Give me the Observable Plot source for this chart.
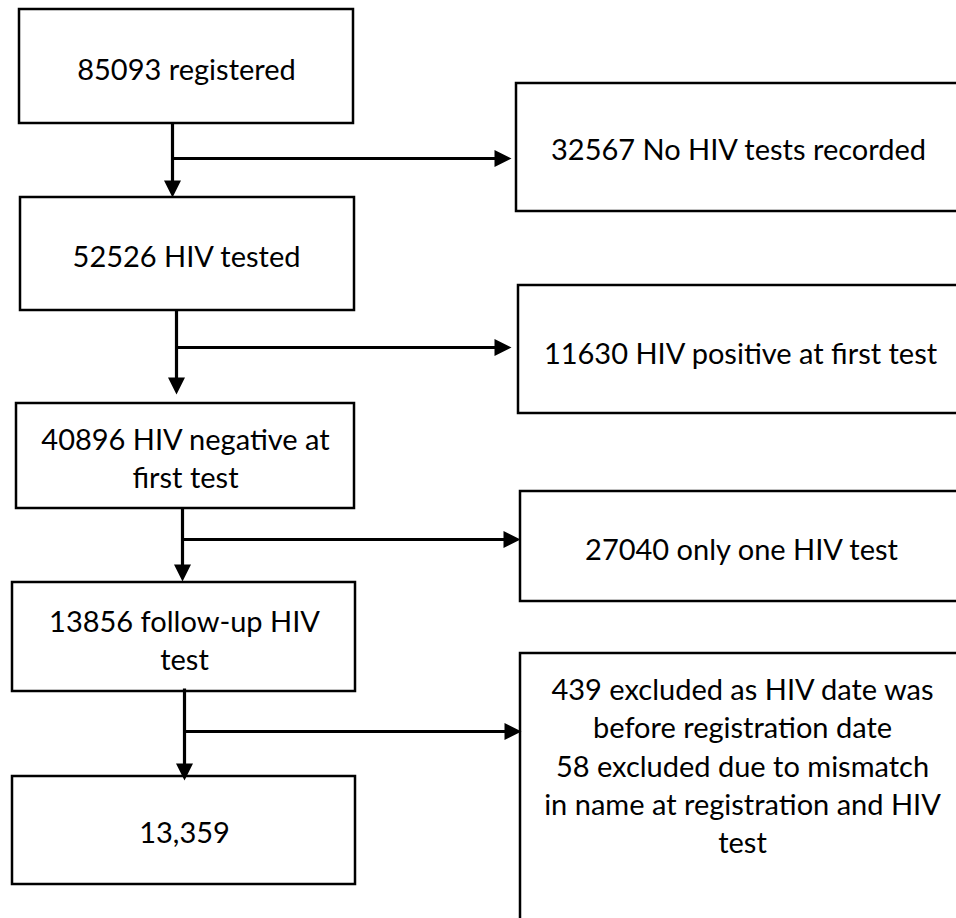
<!DOCTYPE html>
<html>
<head>
<meta charset="utf-8">
<script src="https://cdn.jsdelivr.net/npm/d3@7"></script>
<script src="https://cdn.jsdelivr.net/npm/@observablehq/plot@0.6"></script>
<style>
  html, body { margin: 0; padding: 0; background: #fff; }
  #chart { width: 956px; height: 918px; overflow: hidden; }
</style>
</head>
<body>
<div id="chart"></div>
<script>
// ---- Content (flow counts / labels) ----
const mainLabels = [
  "85093 registered",
  "52526 HIV tested",
  "40896 HIV negative at\nfirst test",
  "13856 follow-up HIV\ntest",
  "13,359"
];
const sideLabels = [
  "32567 No HIV tests recorded",
  "11630 HIV positive at first test",
  "27040 only one HIV test",
  "439 excluded as HIV date was\nbefore registration date\n58 excluded due to mismatch\nin name at registration and HIV\ntest"
];

// ---- Layout (pixel coordinates in the 956 x 918 canvas) ----
const mainX1 = [19, 20, 16, 12, 12];
const mainX2 = [353, 354, 354, 355, 355];
const mainY1 = [9, 197, 403, 582, 776];
const mainY2 = [123, 310, 508, 691, 884];
const mainTextX = [186, 186, 185, 184, 184];
const mainTextY = [67, 254, 456, 638, 830];

const sideX1 = [516, 518, 520, 520];
const sideY1 = [83, 285, 491, 653];
const sideY2 = [211, 413, 601, 940];
const sideTextX = [738, 740, 741, 742];
const sideTextY = [147, 351, 547, 764];

// arrows: vertical from main box i to box i+1, branch to side box i
const arrowX = [172, 176, 182, 184];
const arrowTopY = [123, 310, 508, 688];
const arrowTipY = [197, 394, 581, 780];
const branchY = [158, 347, 539, 731];
const branchTipX = [511, 511, 520, 521];

const headLen = 17;

const mainBoxes = mainLabels.map((label, i) => ({
  label, x1: mainX1[i], x2: mainX2[i], y1: mainY1[i], y2: mainY2[i],
  tx: mainTextX[i], ty: mainTextY[i]
}));
const sideBoxes = sideLabels.map((label, i) => ({
  label, x1: sideX1[i], x2: 980, y1: sideY1[i], y2: sideY2[i],
  tx: sideTextX[i], ty: sideTextY[i]
}));

const shafts = [];
const heads = [];
arrowX.forEach((x, i) => {
  shafts.push({x1: x, y1: arrowTopY[i], x2: x, y2: arrowTipY[i] - headLen + 2});
  heads.push({x, y: arrowTipY[i], rot: 0});
  shafts.push({x1: x + 1, y1: branchY[i], x2: branchTipX[i] - headLen + 2, y2: branchY[i]});
  heads.push({x: branchTipX[i], y: branchY[i], rot: -90});
});

// filled triangle arrowhead, tip at origin, pointing down (before rotation)
const arrowHead = {
  draw(context, size) {
    const L = Math.sqrt(size);
    context.moveTo(0, 0);
    context.lineTo(-L / 2, -L);
    context.lineTo(L / 2, -L);
    context.closePath();
  }
};

const font = "Lato, 'Open Sans', sans-serif";
const fs = 29;

const chart = Plot.plot({
  width: 956,
  height: 918,
  margin: 0,
  x: {domain: [0, 956], range: [0, 956], axis: null},
  y: {domain: [0, 918], range: [0, 918], axis: null},
  marks: [
    Plot.rect(sideBoxes, {x1: "x1", x2: "x2", y1: "y1", y2: "y2", fill: "white", stroke: "black", strokeWidth: 2.5, clip: true}),
    Plot.rect(mainBoxes, {x1: "x1", x2: "x2", y1: "y1", y2: "y2", fill: "white", stroke: "black", strokeWidth: 2.5}),
    Plot.link(shafts, {x1: "x1", y1: "y1", x2: "x2", y2: "y2", stroke: "black", strokeWidth: 3.2}),
    Plot.dot(heads, {x: "x", y: "y", rotate: "rot", symbol: arrowHead, r: headLen / Math.sqrt(Math.PI), fill: "black", stroke: "none"}),
    Plot.text(mainBoxes, {x: "tx", y: "ty", text: "label", fontFamily: font, fontSize: fs, lineHeight: 1.32, textAnchor: "middle", lineAnchor: "middle", fill: "black"}),
    Plot.text(sideBoxes, {x: "tx", y: "ty", text: "label", fontFamily: font, fontSize: fs, lineHeight: 1.32, textAnchor: "middle", lineAnchor: "middle", fill: "black"})
  ]
});
document.getElementById("chart").appendChild(chart);
</script>
</body>
</html>
